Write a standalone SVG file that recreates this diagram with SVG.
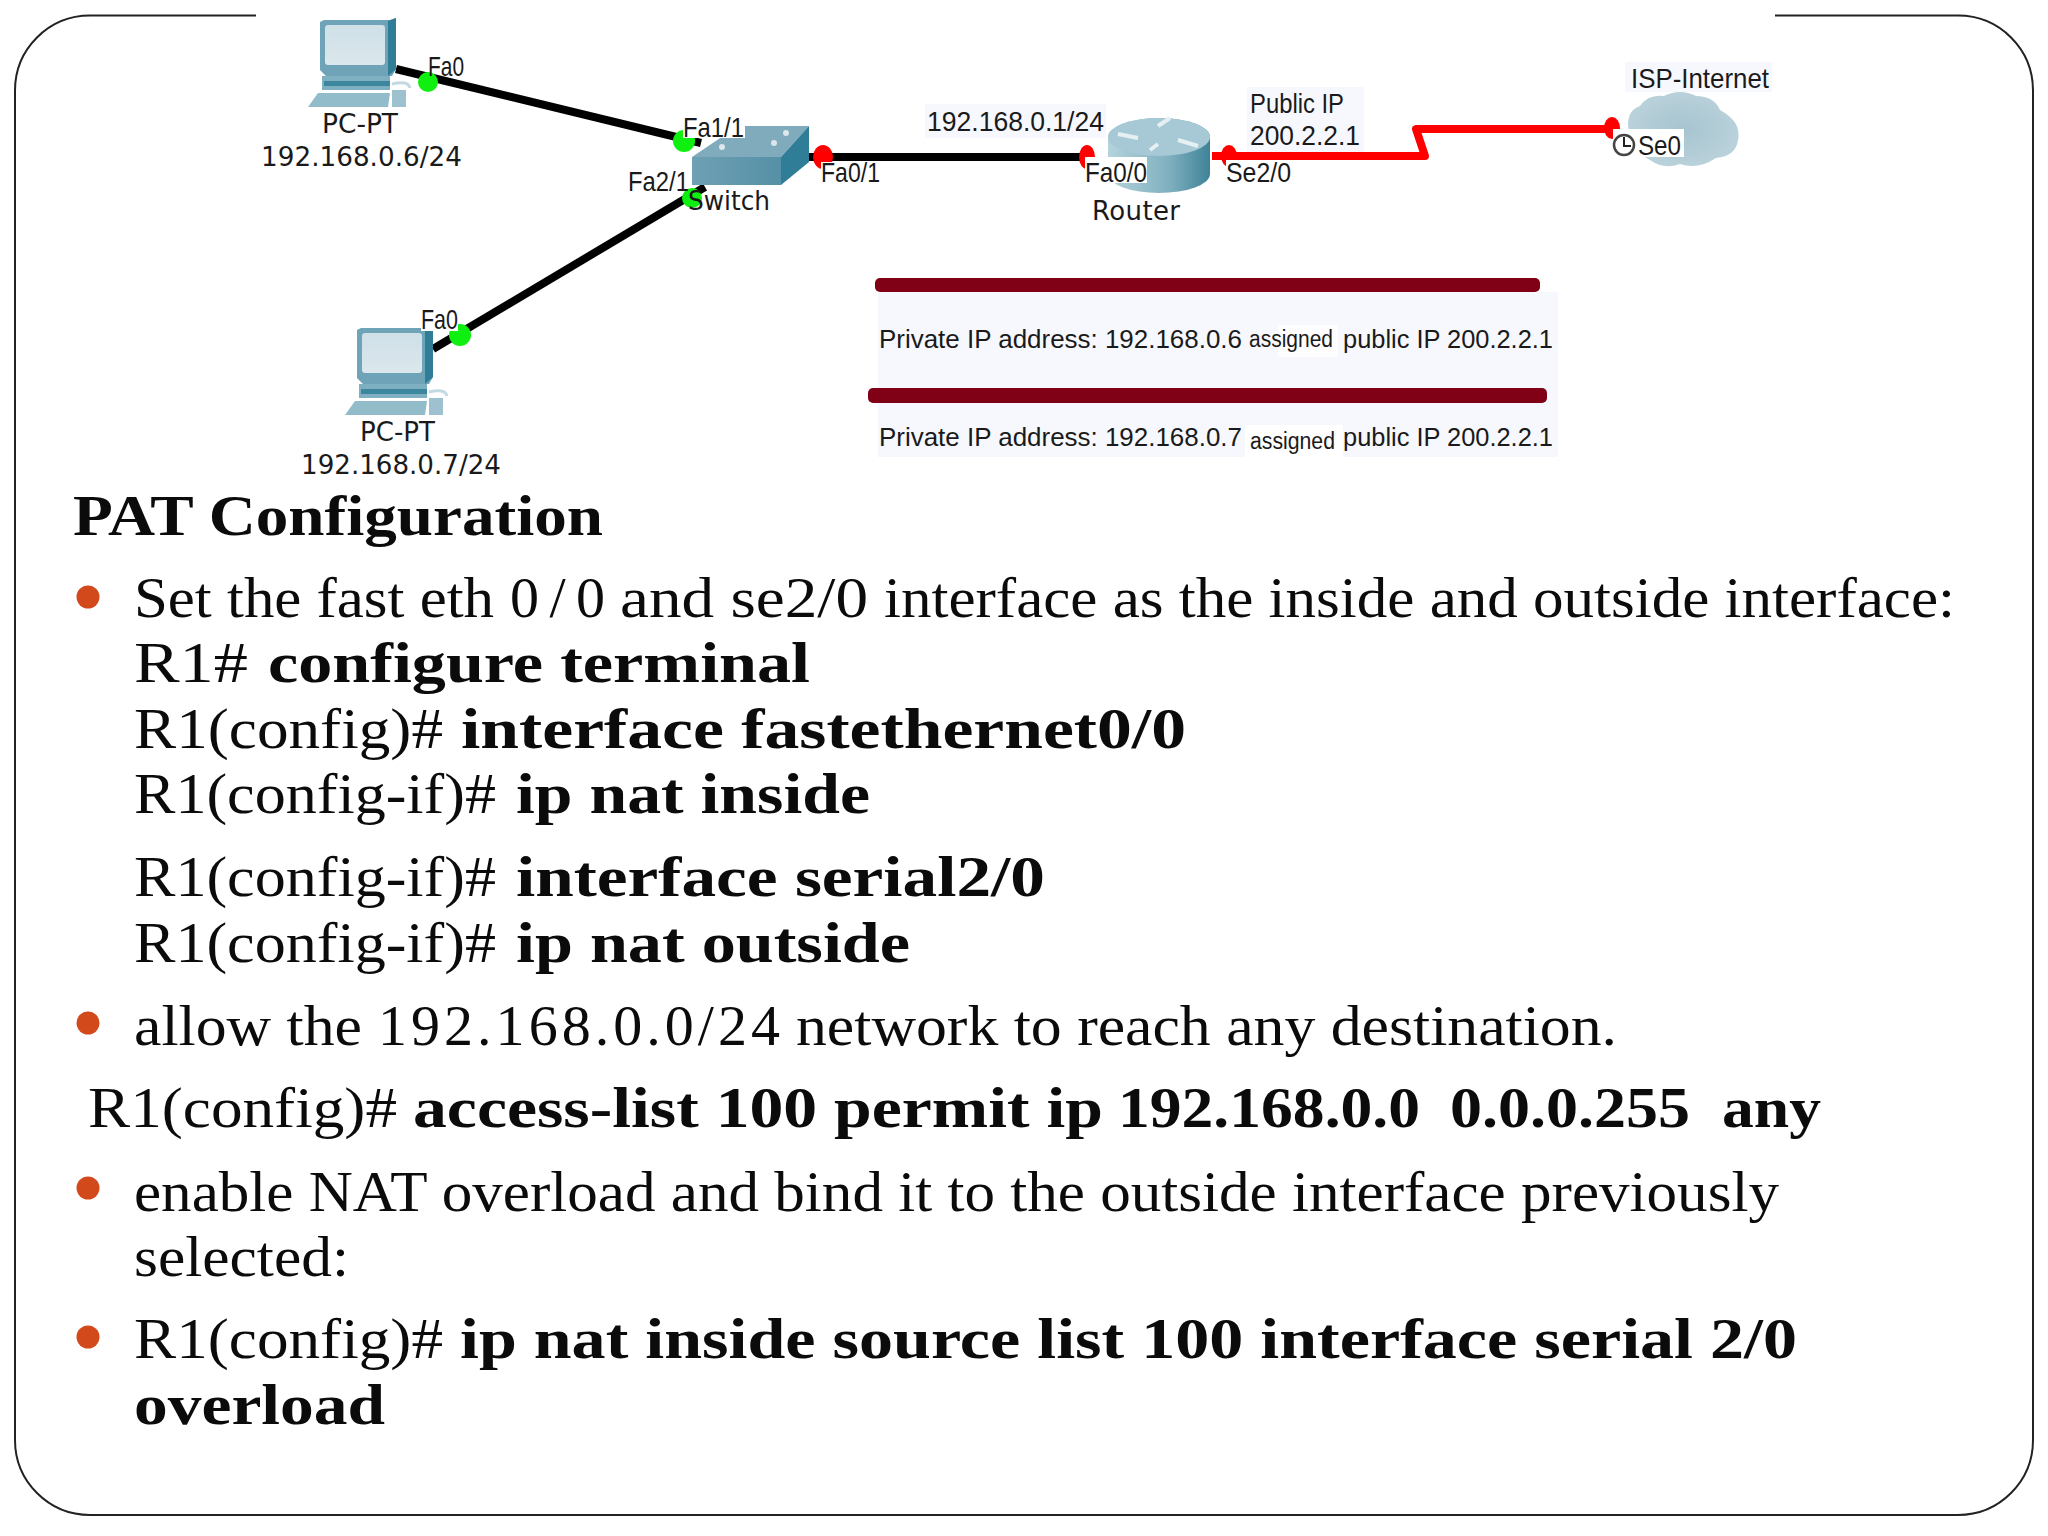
<svg xmlns="http://www.w3.org/2000/svg" width="2048" height="1536" viewBox="0 0 2048 1536">
<defs>
<style>
.b{font-family:"Liberation Serif",serif;font-size:58px;fill:#0b0b0b}
.bb{font-weight:bold}
.n{font-family:"DejaVu Sans",sans-serif;font-size:26px;fill:#1a1a1a}
.c{font-family:"Liberation Sans",sans-serif;font-size:28px;fill:#1a1a1a}
.t{font-family:"Liberation Sans",sans-serif;font-size:25px;fill:#1a1a1a}
.s{font-family:"Liberation Sans",sans-serif;font-size:23px;fill:#1a1a1a}
.bullet{fill:#d2491c}
.lk{fill:none;stroke:#000;stroke-width:8}
.lr{fill:none;stroke:#f00;stroke-width:8;stroke-linejoin:round}
.gd{fill:#10f010}
.rd{fill:#f00}
.bar{fill:#800016}
.panel{fill:#f7f8fe}
.w{fill:#fff}
</style>
<linearGradient id="scr" x1="0" y1="0" x2="0" y2="1"><stop offset="0" stop-color="#cfe0e8"/><stop offset="1" stop-color="#dbe7ec"/></linearGradient>
<linearGradient id="sw" x1="0" y1="0" x2="1" y2="0"><stop offset="0" stop-color="#6fa0b4"/><stop offset="1" stop-color="#5590a6"/></linearGradient>
<linearGradient id="rt" x1="0" y1="0" x2="1" y2="0"><stop offset="0" stop-color="#b5d3dc"/><stop offset=".6" stop-color="#7fb0c0"/><stop offset="1" stop-color="#3f8298"/></linearGradient>
<radialGradient id="cl"><stop offset="0" stop-color="#a6c4d0"/><stop offset="1" stop-color="#b9d1da"/></radialGradient>
<g id="pc">
<path d="M0 4 L4 2 H70 L76 0 V51 L72 58 H6 L0 52Z" fill="#6ea3b8"/>
<path d="M68 3 L76 0 V51 L68 58Z" fill="#2f7d96"/>
<rect x="5" y="7" width="60" height="40" rx="3" fill="url(#scr)"/>
<path d="M2 58 H70 V72 H2Z" fill="#7fb0c2"/><path d="M4 63 H70 V68 H4Z" fill="#3d879e"/>
<path d="M-2 75 H70 L68 89 H-12Z" fill="#93bccb"/>
<path d="M72 66 Q88 62 90 70" fill="none" stroke="#c4dae2" stroke-width="3"/><rect x="72" y="72" width="14" height="17" fill="#9dc1cf"/>
</g>
</defs>
<rect width="2048" height="1536" fill="#fff"/>
<g id="frame"><path d="M256 15.500 H90 A75 75 0 0 0 15 90.500 V1440 A75 75 0 0 0 90 1515 H1958 A75 75 0 0 0 2033 1440 V90.500 A75 75 0 0 0 1958 15.500 H1775" fill="none" stroke="#222" stroke-width="2"/></g>
<g id="panels">
<rect class="panel" x="925" y="104" width="181" height="34"/>
<rect class="panel" x="1247" y="87" width="117" height="66"/>
<rect class="panel" x="1625" y="62" width="147" height="30"/>
<rect class="panel" x="878" y="292" width="680" height="165"/>
</g>
<g id="connectors">
<path class="lk" d="M396 69 L701 143"/>
<path class="lk" d="M705 187 L433 349"/>
<path class="lk" d="M803 157 H1090"/>
<path class="lr" d="M1212 156 H1425 L1416 129 H1613"/>
</g>
<g id="pc1"><use href="#pc" x="320" y="18"/><text class="n" x="322" y="133" textLength="76" lengthAdjust="spacingAndGlyphs">PC-PT</text><text class="n" x="261" y="166" textLength="201" lengthAdjust="spacingAndGlyphs">192.168.0.6/24</text></g>
<g id="pc2"><use href="#pc" x="357" y="326"/><text class="n" x="360" y="441" textLength="75" lengthAdjust="spacingAndGlyphs">PC-PT</text><text class="n" x="301" y="474" textLength="200" lengthAdjust="spacingAndGlyphs">192.168.0.7/24</text></g>
<g id="switch">
<path d="M692 157 L738 126 H809 L781 157Z" fill="#7fabbc"/>
<path d="M781 157 L809 126 V162 L781 185Z" fill="#2f7d96"/>
<rect x="692" y="157" width="89" height="28" fill="url(#sw)"/>
<circle cx="722" cy="147" r="3" fill="#dbe7ec"/><circle cx="774" cy="143" r="3" fill="#dbe7ec"/><circle cx="786" cy="133" r="3" fill="#dbe7ec"/>
</g>
<g id="router"><path d="M1108 137 A51 19 0 0 1 1210 137 V174 A51 19 0 0 1 1108 174Z" fill="url(#rt)"/><ellipse cx="1159" cy="137" rx="51" ry="19" fill="#a6c9d5"/><path d="M1118 134 L1138 138 M1198 146 L1178 140 M1158 126 L1170 118 M1150 150 L1158 144" stroke="#e6f0f3" stroke-width="4" fill="none"/></g>
<g id="cloud"><path d="M1628 125 Q1628 110 1640 106 Q1648 94 1664 96 Q1680 88 1696 96 Q1714 96 1720 110 Q1742 122 1738 140 Q1736 156 1716 158 Q1698 170 1680 164 Q1664 170 1650 160 Q1630 150 1628 125Z" fill="url(#cl)"/></g>
<g id="ports">
<circle class="gd" cx="428" cy="82" r="10"/><circle class="gd" cx="684" cy="141" r="11"/><circle class="gd" cx="692" cy="198" r="10"/><circle class="gd" cx="460" cy="335" r="11"/>
<ellipse class="rd" cx="823" cy="157" rx="10" ry="12"/><ellipse class="rd" cx="1087" cy="157" rx="8" ry="12"/><ellipse class="rd" cx="1229" cy="156" rx="8" ry="11"/><ellipse class="rd" cx="1612" cy="128" rx="8" ry="11"/>
</g>
<g id="port-labels">
<text class="c" x="428" y="76" textLength="36" lengthAdjust="spacingAndGlyphs">Fa0</text>
<rect class="w" x="421" y="308" width="37" height="23"/><text class="c" x="421" y="329" textLength="37" lengthAdjust="spacingAndGlyphs">Fa0</text>
<rect class="w" x="683" y="117" width="62" height="21"/><text class="c" x="683" y="137" textLength="61" lengthAdjust="spacingAndGlyphs">Fa1/1</text>
<text class="c" x="628" y="191" textLength="61" lengthAdjust="spacingAndGlyphs">Fa2/1</text>
<text class="n" x="688" y="210" textLength="82" lengthAdjust="spacingAndGlyphs">Switch</text>
<rect class="w" x="821" y="162" width="60" height="22"/><text class="c" x="821" y="182" textLength="59" lengthAdjust="spacingAndGlyphs">Fa0/1</text>
<rect class="w" x="1085" y="157" width="62" height="26"/><text class="c" x="1085" y="182" textLength="62" lengthAdjust="spacingAndGlyphs">Fa0/0</text>
<rect class="w" x="1226" y="160" width="65" height="24"/><text class="c" x="1226" y="182" textLength="65" lengthAdjust="spacingAndGlyphs">Se2/0</text>
<text class="c" x="927" y="131" textLength="177" lengthAdjust="spacingAndGlyphs">192.168.0.1/24</text>
<text class="c" x="1250" y="113" textLength="94" lengthAdjust="spacingAndGlyphs">Public IP</text>
<text class="c" x="1250" y="145" textLength="110" lengthAdjust="spacingAndGlyphs">200.2.2.1</text>
<text class="n" x="1092" y="220" textLength="88" lengthAdjust="spacing">Router</text>
<text class="c" x="1631" y="88" textLength="138" lengthAdjust="spacingAndGlyphs">ISP-Internet</text>
<rect class="w" x="1613" y="129" width="71" height="28"/>
<circle cx="1624" cy="145" r="10" fill="#fff" stroke="#444" stroke-width="2.500"/><path d="M1624 137 V146 H1631" fill="none" stroke="#222" stroke-width="2"/>
<text class="c" x="1638" y="155" textLength="43" lengthAdjust="spacingAndGlyphs">Se0</text>
</g>
<g id="nat-table">
<rect class="bar" x="875" y="278" width="665" height="14" rx="5"/>
<rect class="bar" x="868" y="388" width="679" height="15" rx="5"/>
<rect class="w" x="1278" y="325" width="60" height="32" opacity=".8"/>
<rect class="w" x="1245" y="425" width="98" height="32"/>
<text class="t" x="879" y="348" textLength="363" lengthAdjust="spacingAndGlyphs">Private IP address: 192.168.0.6</text>
<text class="s" x="1249" y="347" textLength="84" lengthAdjust="spacingAndGlyphs">assigned</text>
<text class="t" x="1343" y="348" textLength="210" lengthAdjust="spacingAndGlyphs">public IP 200.2.2.1</text>
<text class="t" x="879" y="446" textLength="363" lengthAdjust="spacingAndGlyphs">Private IP address: 192.168.0.7</text>
<text class="s" x="1250" y="449" textLength="85" lengthAdjust="spacingAndGlyphs">assigned</text>
<text class="t" x="1343" y="446" textLength="210" lengthAdjust="spacingAndGlyphs">public IP 200.2.2.1</text>
</g>
<g id="body">
<circle class="bullet" cx="88" cy="597" r="11.500"/><circle class="bullet" cx="88" cy="1023" r="11.500"/><circle class="bullet" cx="88" cy="1188" r="11.500"/><circle class="bullet" cx="88" cy="1337" r="11.500"/>
<text class="b bb" x="73" y="535" textLength="530" lengthAdjust="spacingAndGlyphs">PAT Configuration</text>
<text class="b" x="134" y="617" textLength="360" lengthAdjust="spacingAndGlyphs">Set the fast eth</text><text class="b" x="510" y="617" textLength="95" lengthAdjust="spacing">0/0</text><text class="b" x="620" y="617" textLength="248" lengthAdjust="spacingAndGlyphs">and se2/0</text><text class="b" x="884" y="617" textLength="1071" lengthAdjust="spacingAndGlyphs">interface as the inside and outside interface:</text>
<text class="b" x="134" y="682" textLength="114" lengthAdjust="spacingAndGlyphs">R1#</text><text class="b bb" x="268" y="682" textLength="542" lengthAdjust="spacingAndGlyphs">configure terminal</text>
<text class="b" x="134" y="748" textLength="309" lengthAdjust="spacingAndGlyphs">R1(config)#</text><text class="b bb" x="461" y="748" textLength="725" lengthAdjust="spacingAndGlyphs">interface fastethernet0/0</text>
<text class="b" x="134" y="813" textLength="362" lengthAdjust="spacingAndGlyphs">R1(config-if)#</text><text class="b bb" x="516" y="813" textLength="354" lengthAdjust="spacingAndGlyphs">ip nat inside</text>
<text class="b" x="134" y="896" textLength="362" lengthAdjust="spacingAndGlyphs">R1(config-if)#</text><text class="b bb" x="516" y="896" textLength="529" lengthAdjust="spacingAndGlyphs">interface serial2/0</text>
<text class="b" x="134" y="962" textLength="362" lengthAdjust="spacingAndGlyphs">R1(config-if)#</text><text class="b bb" x="516" y="962" textLength="394" lengthAdjust="spacingAndGlyphs">ip nat outside</text>
<text class="b" x="134" y="1045" textLength="228" lengthAdjust="spacingAndGlyphs">allow the</text><text class="b" x="378" y="1045" textLength="402" lengthAdjust="spacing">192.168.0.0/24</text><text class="b" x="796" y="1045" textLength="821" lengthAdjust="spacingAndGlyphs">network to reach any destination.</text>
<text class="b" x="88" y="1127" textLength="309" lengthAdjust="spacingAndGlyphs">R1(config)#</text><text class="b bb" x="413" y="1127" textLength="690" lengthAdjust="spacingAndGlyphs">access-list 100 permit ip</text><text class="b bb" x="1118" y="1127" textLength="302" lengthAdjust="spacingAndGlyphs">192.168.0.0</text><text class="b bb" x="1450" y="1127" textLength="240" lengthAdjust="spacingAndGlyphs">0.0.0.255</text><text class="b bb" x="1722" y="1127" textLength="99" lengthAdjust="spacingAndGlyphs">any</text>
<text class="b" x="134" y="1211" textLength="1645" lengthAdjust="spacingAndGlyphs">enable NAT overload and bind it to the outside interface previously</text>
<text class="b" x="134" y="1276" textLength="215" lengthAdjust="spacingAndGlyphs">selected:</text>
<text class="b" x="134" y="1358" textLength="309" lengthAdjust="spacingAndGlyphs">R1(config)#</text><text class="b bb" x="460" y="1358" textLength="1337" lengthAdjust="spacingAndGlyphs">ip nat inside source list 100 interface serial 2/0</text>
<text class="b bb" x="134" y="1424" textLength="251" lengthAdjust="spacingAndGlyphs">overload</text>
</g>
</svg>
